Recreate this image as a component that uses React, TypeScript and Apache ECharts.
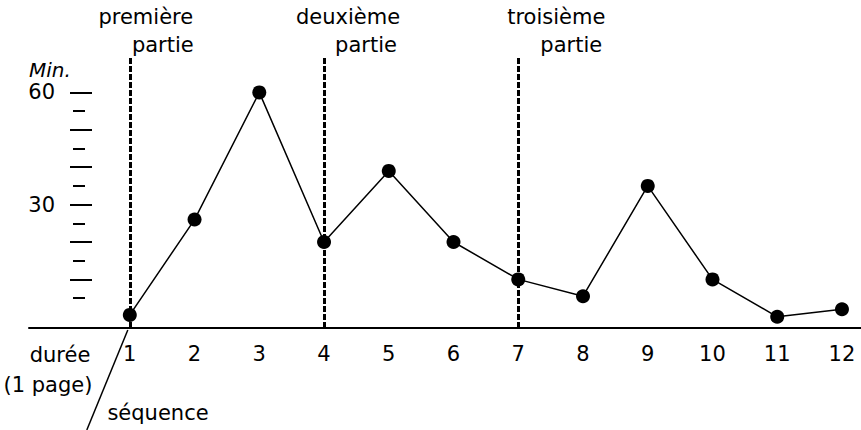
import React, { useEffect, useRef } from "react";
import * as echarts from "echarts";

const sequences = [1, 2, 3, 4, 5, 6, 7, 8, 9, 10, 11, 12];
const durations = [0.5, 26, 60, 20, 39, 20, 10, 5.5, 35, 10, 0, 2];
const partStarts = [1, 4, 7];
const partTitles = ["première", "deuxième", "troisième"];
const partSubtitle = "partie";
const majorTicks = [10, 20, 30, 40, 50, 60];
const minorTicks = [5, 15, 25, 35, 45, 55];
const yLabels = [30, 60];
const yName = "Min.";
const xNameLines = ["durée", "(1 page)"];
const seqName = "séquence";

const FONT = "DejaVu Sans";
const FS = 21;

export default function App() {
  const ref = useRef<HTMLDivElement>(null);
  useEffect(() => {
    document.body.style.margin = "0";
    const chart = echarts.init(ref.current!, null, { renderer: "svg" });
    const yCommon = {
      type: "value",
      position: "left",
      min: -3,
      max: 69.2,
      axisLine: { show: false },
      splitLine: { show: false },
    };
    chart.setOption({
      animation: false,
      grid: { left: 29, right: 0, top: 58, bottom: 102 },
      xAxis: {
        type: "value",
        min: -0.557,
        max: 12.294,
        axisLine: { onZero: false, lineStyle: { color: "#000", width: 2 } },
        axisTick: { show: false },
        splitLine: { show: false },
        axisLabel: {
          customValues: sequences,
          color: "#000",
          fontFamily: FONT,
          fontSize: FS,
          margin: 15,
        },
      },
      yAxis: [
        {
          ...yCommon,
          offset: -63,
          axisTick: {
            show: true,
            customValues: majorTicks,
            length: 22,
            lineStyle: { color: "#000", width: 2 },
          },
          axisLabel: {
            customValues: yLabels,
            margin: 37,
            color: "#000",
            fontFamily: FONT,
            fontSize: FS,
          },
        },
        {
          ...yCommon,
          offset: -56,
          axisTick: {
            show: true,
            customValues: minorTicks,
            length: 12,
            lineStyle: { color: "#000", width: 2 },
          },
          axisLabel: { show: false },
        },
      ],
      series: [
        {
          type: "line",
          data: sequences.map((s, i) => [s, durations[i]]),
          symbol: "circle",
          symbolSize: 14,
          itemStyle: { color: "#000" },
          lineStyle: { color: "#000", width: 1.5 },
          markLine: {
            silent: true,
            symbol: ["none", "none"],
            label: { show: false },
            lineStyle: { color: "#000", type: [6, 2], width: 3 },
            data: partStarts.map((p) => ({ xAxis: p })),
          },
        },
      ],
    });

    const titleOffsets = [
      [16, 33],
      [24, 42],
      [38, 53],
    ];
    const graphics: any[] = [];
    partStarts.forEach((p, i) => {
      const [px] = chart.convertToPixel({ gridIndex: 0 }, [p, 0]) as number[];
      graphics.push({
        type: "text",
        x: px + titleOffsets[i][0],
        y: 17,
        style: {
          text: partTitles[i],
          fontFamily: FONT,
          fontSize: FS,
          fill: "#000",
          align: "center",
          verticalAlign: "middle",
        },
      });
      graphics.push({
        type: "text",
        x: px + titleOffsets[i][1],
        y: 45,
        style: {
          text: partSubtitle,
          fontFamily: FONT,
          fontSize: FS,
          fill: "#000",
          align: "center",
          verticalAlign: "middle",
        },
      });
    });
    const [, y60] = chart.convertToPixel({ gridIndex: 0 }, [0, 60]) as number[];
    graphics.push({
      type: "text",
      x: 29,
      y: y60 - 22,
      style: {
        text: yName,
        fontFamily: FONT,
        fontStyle: "italic",
        fontSize: 20,
        fill: "#000",
        align: "left",
        verticalAlign: "middle",
      },
    });
    const [x1, yBase] = chart.convertToPixel({ gridIndex: 0 }, [1, -3]) as number[];
    graphics.push({
      type: "text",
      x: 60,
      y: yBase + 27,
      style: { text: xNameLines[0], fontFamily: FONT, fontSize: FS, fill: "#000", align: "center", verticalAlign: "middle" },
    });
    graphics.push({
      type: "text",
      x: 48,
      y: yBase + 57,
      style: { text: xNameLines[1], fontFamily: FONT, fontSize: FS, fill: "#000", align: "center", verticalAlign: "middle" },
    });
    graphics.push({
      type: "text",
      x: 158,
      y: yBase + 85,
      style: { text: seqName, fontFamily: FONT, fontSize: FS, fill: "#000", align: "center", verticalAlign: "middle" },
    });
    graphics.push({
      type: "line",
      shape: { x1: x1 - 2, y1: yBase + 2, x2: x1 - 43, y2: yBase + 102 },
      style: { stroke: "#000", lineWidth: 1.5 },
    });
    chart.setOption({ graphic: graphics });

    return () => chart.dispose();
  }, []);
  return <div ref={ref} style={{ width: 861, height: 430 }} />;
}
